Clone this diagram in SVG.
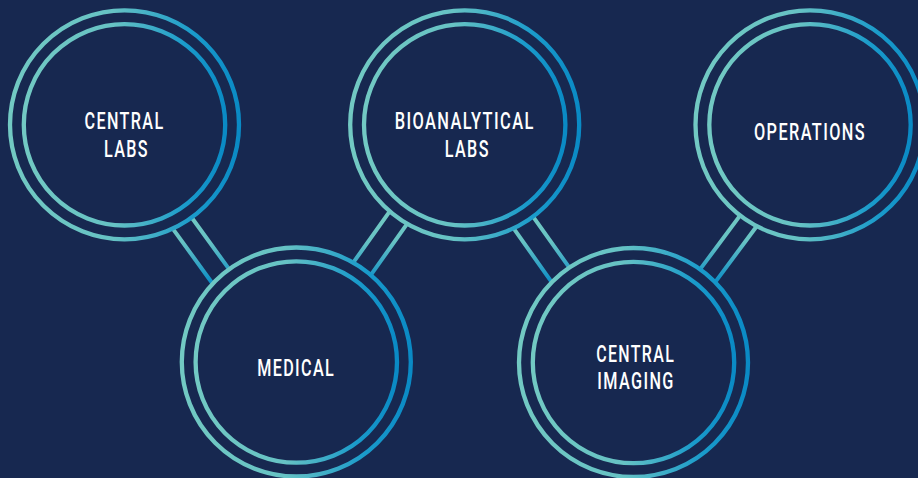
<svg xmlns="http://www.w3.org/2000/svg" width="918" height="478" viewBox="0 0 918 478">
  <defs>
    <linearGradient id="ringGrad" x1="0" y1="0" x2="1" y2="0">
      <stop offset="0" stop-color="#72c9c3"/>
      <stop offset="0.45" stop-color="#66c2c4"/>
      <stop offset="0.8" stop-color="#1a9bcb"/>
      <stop offset="1" stop-color="#0a8ac5"/>
    </linearGradient>
    <linearGradient id="connGrad" gradientUnits="userSpaceOnUse" x1="0" y1="215" x2="0" y2="283">
      <stop offset="0" stop-color="#72c9c3"/>
      <stop offset="0.4" stop-color="#66c2c4"/>
      <stop offset="1" stop-color="#0a8dc6"/>
    </linearGradient>
    <style>
      .bg { fill: #172850; }
      .ring { fill: none; stroke: url(#ringGrad); stroke-width: 4.3; }
      .conn { fill: none; stroke: url(#connGrad); stroke-width: 4; }
      .lbl { fill: #ffffff; font-family: Roboto, "DejaVu Sans", sans-serif; font-weight: 500; font-size: 23.5px; letter-spacing: 2px; text-anchor: middle; }
    </style>
  </defs>
  <rect class="bg" x="0" y="0" width="918" height="478"/>

  <g id="connectors">
    <path class="conn" d="M173.1,229.1 L212.5,283.5 M192,218 L228.9,268.9"/>
    <path class="conn" d="M353.55,262.2 L389.35,211.8 M371.1,274.6 L406.9,224.2"/>
    <path class="conn" d="M513.8,228.7 L551.5,281.8 M533.4,217.1 L569,267.2"/>
    <path class="conn" d="M700.4,268.9 L739.8,215.9 M715.4,281.85 L756.5,226.55"/>
  </g>

  <g id="central-labs">
    <circle class="ring" cx="124.5" cy="124.8" r="114.5"/>
    <circle class="ring" cx="124.5" cy="124.8" r="100.7"/>
    <text class="lbl" x="124.5" y="129.3" textLength="80" lengthAdjust="spacingAndGlyphs">CENTRAL</text>
    <text class="lbl" x="126.5" y="156.7" textLength="45" lengthAdjust="spacingAndGlyphs">LABS</text>
  </g>

  <g id="medical">
    <circle class="ring" cx="296.3" cy="362" r="114.5"/>
    <circle class="ring" cx="296.3" cy="362" r="100.7"/>
    <text class="lbl" x="296.2" y="376" textLength="78" lengthAdjust="spacingAndGlyphs">MEDICAL</text>
  </g>

  <g id="bioanalytical-labs">
    <circle class="ring" cx="464.7" cy="124.8" r="114.5"/>
    <circle class="ring" cx="464.7" cy="124.8" r="100.7"/>
    <text class="lbl" x="464.7" y="129.3" textLength="140" lengthAdjust="spacingAndGlyphs">BIOANALYTICAL</text>
    <text class="lbl" x="467.3" y="156.7" textLength="45" lengthAdjust="spacingAndGlyphs">LABS</text>
  </g>

  <g id="central-imaging">
    <circle class="ring" cx="633.5" cy="362.5" r="114.5"/>
    <circle class="ring" cx="633.5" cy="362.5" r="100.7"/>
    <text class="lbl" x="635.7" y="362" textLength="79" lengthAdjust="spacingAndGlyphs">CENTRAL</text>
    <text class="lbl" x="636" y="388.5" textLength="77.5" lengthAdjust="spacingAndGlyphs">IMAGING</text>
  </g>

  <g id="operations">
    <circle class="ring" cx="810" cy="124.8" r="114.5"/>
    <circle class="ring" cx="810" cy="124.8" r="100.7"/>
    <text class="lbl" x="810" y="140" textLength="112" lengthAdjust="spacingAndGlyphs">OPERATIONS</text>
  </g>
</svg>
